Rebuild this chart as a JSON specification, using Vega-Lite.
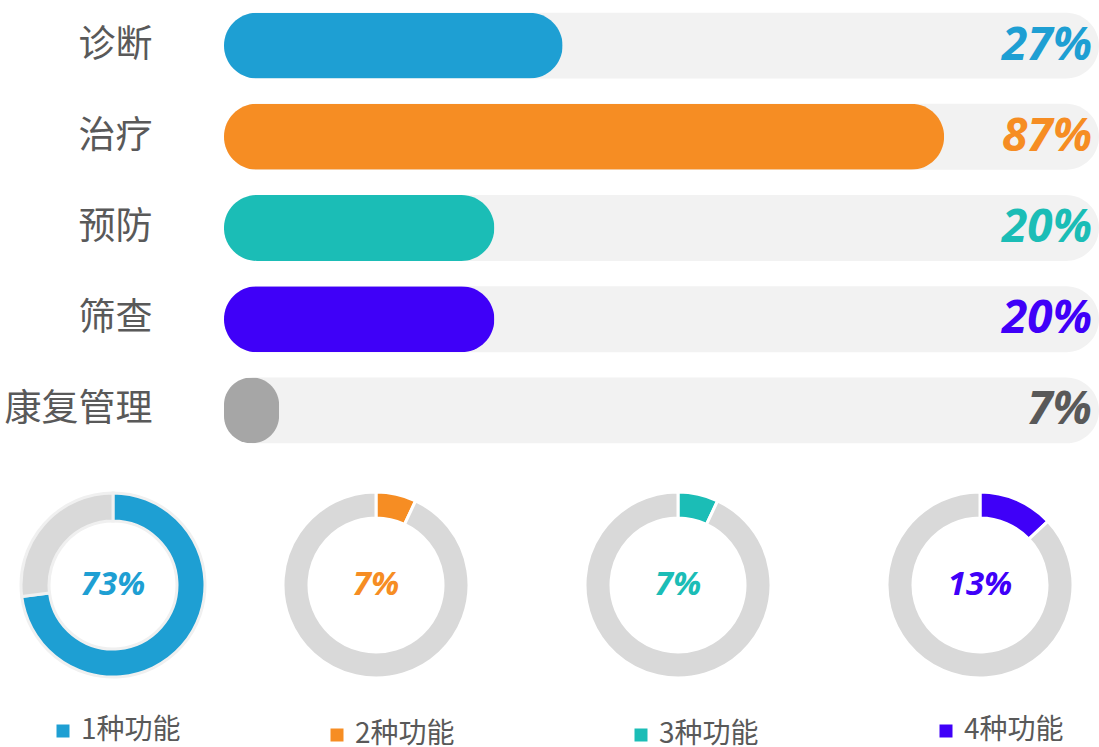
{
  "$schema": "https://vega.github.io/schema/vega-lite/v6.json",
  "padding": {"left": 4, "top": 0, "right": 0, "bottom": 0},
  "background": "#ffffff",
  "config": {"view": {"stroke": null}},
  "spacing": 30,
  "resolve": {"scale": {"color": "independent"}, "legend": {"color": "independent"}},
  "vconcat": [
    {
      "width": 1095,
      "height": 456,
      "data": {"values": [
        {"item": "诊断", "bar": 38.7, "label": "27%"},
        {"item": "治疗", "bar": 82.3, "label": "87%"},
        {"item": "预防", "bar": 30.9, "label": "20%"},
        {"item": "筛查", "bar": 30.9, "label": "20%"},
        {"item": "康复管理", "bar": 6.3, "label": "7%"}
      ]},
      "encoding": {
        "y": {"field": "item", "type": "nominal", "sort": null,
          "scale": {"paddingInner": 0.277, "paddingOuter": 0.1385},
          "axis": {"title": null, "domain": false, "ticks": false, "grid": false, "offset": -148,
            "labelFontSize": 37, "labelColor": "#595959", "labelFont": "Noto Sans CJK SC",
            "labelPadding": 0, "labelAlign": "right"}}
      },
      "layer": [
        {
          "mark": {"type": "bar", "color": "#f2f2f2", "cornerRadius": 33},
          "encoding": {"x": {"datum": 100, "type": "quantitative", "scale": {"domain": [-25.14, 100], "nice": false, "zero": false}, "axis": null}}
        },
        {
          "mark": {"type": "bar", "cornerRadius": 33},
          "encoding": {
            "x": {"field": "bar", "type": "quantitative", "scale": {"domain": [-25.14, 100], "nice": false, "zero": false}, "axis": null},
            "color": {"field": "item", "type": "nominal", "legend": null,
              "scale": {"domain": ["诊断", "治疗", "预防", "筛查", "康复管理"], "range": ["#1e9fd3", "#f68d23", "#1bbdb6", "#3f00f8", "#a6a6a6"]}}
          }
        },
        {
          "mark": {"type": "text", "align": "right", "baseline": "middle", "dx": -7, "fontSize": 46, "fontWeight": "bold", "fontStyle": "italic", "font": "Open Sans"},
          "encoding": {
            "x": {"datum": 100, "type": "quantitative", "scale": {"domain": [-25.14, 100], "nice": false, "zero": false}, "axis": null},
            "text": {"field": "label"},
            "color": {"field": "item", "type": "nominal", "legend": null,
              "scale": {"domain": ["诊断", "治疗", "预防", "筛查", "康复管理"], "range": ["#1e9fd3", "#f68d23", "#1bbdb6", "#3f00f8", "#595959"]}}
          }
        }
      ],
      "resolve": {"scale": {"color": "independent"}}
    },
    {
      "spacing": 55,
      "resolve": {"scale": {"color": "independent"}, "legend": {"color": "independent"}},
      "hconcat": [
        {
          "width": 218, "height": 186,
          "data": {"values": [{"cat": "1种功能", "v": 73, "pct": "73%"}, {"cat": "其他", "v": 27}]},
          "layer": [
            {
              "mark": {"type": "arc", "outerRadius": 92, "innerRadius": 64, "stroke": "#f0f0f0", "strokeWidth": 3},
              "encoding": {
                "theta": {"field": "v", "type": "quantitative", "stack": true},
                "color": {"field": "cat", "type": "nominal",
                  "scale": {"domain": ["1种功能", "其他"], "range": ["#1e9fd3", "#d9d9d9"]},
                  "legend": {"values": ["1种功能"], "orient": "none", "legendX": 45, "legendY": 225, "title": null, "symbolType": "square", "symbolSize": 169, "symbolStrokeWidth": 0, "labelFontSize": 28, "labelColor": "#595959", "labelFont": "Noto Sans CJK SC"}}
              }
            },
            {
              "transform": [{"filter": "isValid(datum.pct)"}],
              "mark": {"type": "text", "fontSize": 33, "fontWeight": "bold", "fontStyle": "italic", "font": "Open Sans", "color": "#1e9fd3", "baseline": "middle"},
              "encoding": {"text": {"field": "pct"}}
            }
          ]
        },
        {
          "spacing": 104,
          "resolve": {"scale": {"color": "independent"}, "legend": {"color": "independent"}},
          "hconcat": [
            {
              "width": 186, "height": 186,
              "data": {"values": [{"cat": "2种功能", "v": 7, "pct": "7%"}, {"cat": "其他", "v": 93}]},
              "layer": [
                {
                  "mark": {"type": "arc", "outerRadius": 93, "innerRadius": 67, "stroke": "#ffffff", "strokeWidth": 3},
                  "encoding": {
                    "theta": {"field": "v", "type": "quantitative", "stack": true},
                    "color": {"field": "cat", "type": "nominal",
                      "scale": {"domain": ["2种功能", "其他"], "range": ["#f68d23", "#d9d9d9"]},
                      "legend": {"values": ["2种功能"], "orient": "none", "legendX": 40, "legendY": 229, "title": null, "symbolType": "square", "symbolSize": 169, "symbolStrokeWidth": 0, "labelFontSize": 28, "labelColor": "#595959", "labelFont": "Noto Sans CJK SC"}}
                  }
                },
                {
                  "transform": [{"filter": "isValid(datum.pct)"}],
                  "mark": {"type": "text", "fontSize": 33, "fontWeight": "bold", "fontStyle": "italic", "font": "Open Sans", "color": "#f68d23", "baseline": "middle"},
                  "encoding": {"text": {"field": "pct"}}
                }
              ]
            },
            {
              "width": 186, "height": 186,
              "data": {"values": [{"cat": "3种功能", "v": 7, "pct": "7%"}, {"cat": "其他", "v": 93}]},
              "layer": [
                {
                  "mark": {"type": "arc", "outerRadius": 93, "innerRadius": 67, "stroke": "#ffffff", "strokeWidth": 3},
                  "encoding": {
                    "theta": {"field": "v", "type": "quantitative", "stack": true},
                    "color": {"field": "cat", "type": "nominal",
                      "scale": {"domain": ["3种功能", "其他"], "range": ["#1bbdb6", "#d9d9d9"]},
                      "legend": {"values": ["3种功能"], "orient": "none", "legendX": 42, "legendY": 229, "title": null, "symbolType": "square", "symbolSize": 169, "symbolStrokeWidth": 0, "labelFontSize": 28, "labelColor": "#595959", "labelFont": "Noto Sans CJK SC"}}
                  }
                },
                {
                  "transform": [{"filter": "isValid(datum.pct)"}],
                  "mark": {"type": "text", "fontSize": 33, "fontWeight": "bold", "fontStyle": "italic", "font": "Open Sans", "color": "#1bbdb6", "baseline": "middle"},
                  "encoding": {"text": {"field": "pct"}}
                }
              ]
            },
            {
              "width": 186, "height": 186,
              "data": {"values": [{"cat": "4种功能", "v": 13, "pct": "13%"}, {"cat": "其他", "v": 87}]},
              "layer": [
                {
                  "mark": {"type": "arc", "outerRadius": 93, "innerRadius": 67, "stroke": "#ffffff", "strokeWidth": 3},
                  "encoding": {
                    "theta": {"field": "v", "type": "quantitative", "stack": true},
                    "color": {"field": "cat", "type": "nominal",
                      "scale": {"domain": ["4种功能", "其他"], "range": ["#3f00f8", "#d9d9d9"]},
                      "legend": {"values": ["4种功能"], "orient": "none", "legendX": 45, "legendY": 225, "title": null, "symbolType": "square", "symbolSize": 169, "symbolStrokeWidth": 0, "labelFontSize": 28, "labelColor": "#595959", "labelFont": "Noto Sans CJK SC"}}
                  }
                },
                {
                  "transform": [{"filter": "isValid(datum.pct)"}],
                  "mark": {"type": "text", "fontSize": 33, "fontWeight": "bold", "fontStyle": "italic", "font": "Open Sans", "color": "#3f00f8", "baseline": "middle"},
                  "encoding": {"text": {"field": "pct"}}
                }
              ]
            }
          ]
        }
      ]
    }
  ]
}
